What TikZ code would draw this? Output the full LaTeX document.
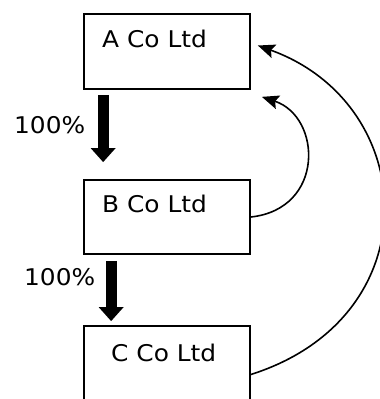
\documentclass[tikz,border=0pt]{standalone}
\usepackage{fontspec}
\setmainfont{DejaVu Sans}[FakeStretch=1.08]
\usepackage{tikz}
\usetikzlibrary{calc,positioning,arrows.meta}

\begin{document}
\begin{tikzpicture}[x=1pt,y=1pt,
    box/.style={draw,line width=1.7pt,minimum width=166pt,minimum height=75pt,inner sep=0pt},
    firm/.style={anchor=west,inner sep=0pt,font=\fontsize{23}{27}\selectfont},
    pct/.style={anchor=west,inner sep=0pt,font=\fontsize{23}{27}\selectfont},
    own/.style={line width=11pt,-{Triangle[width=24pt,length=14pt]}},
    back/.style={line width=1.6pt,-{Stealth[width=14pt,length=17pt,inset=3pt]}}]
    % Frame
    \useasboundingbox (0,0) rectangle (380,399);
    % Boxes
    \node[box] (a) at (167,347.5) {};
    \node[box,minimum height=74pt] (b) at (167,182) {};
    \node[box] (c) at (167,35.5) {};
    % Names
    \node[firm] (atext) at (102,360) {A Co Ltd};
    \node[firm] (btext) at (102,195) {B Co Ltd};
    \node[firm] (ctext) at (111,46) {C Co Ltd};
    % Holdings
    \draw[own] ($(a.south west)+(20,-5)$) -- ($(b.north west)+(20,17)$);
    \draw[own] ($(b.south west)+(28,-6)$) -- ($(c.north west)+(28,4)$);
    \node[pct] (p1) at (14,274) {100\%};
    \node[pct] (p2) at (24,122) {100\%};
    % Back arrows
    \coordinate (bt) at ($(a.south east)+(11,-7)$);
    \coordinate (ct) at ($(a.east)+(7,6)$);
    \draw[back] (b.east) .. controls (325,190) and (322,282) .. (bt);
    \draw[back] ($(c.east)+(0,-11)$) .. controls (432,82) and (420,295) .. (ct);
\end{tikzpicture}
\end{document}
